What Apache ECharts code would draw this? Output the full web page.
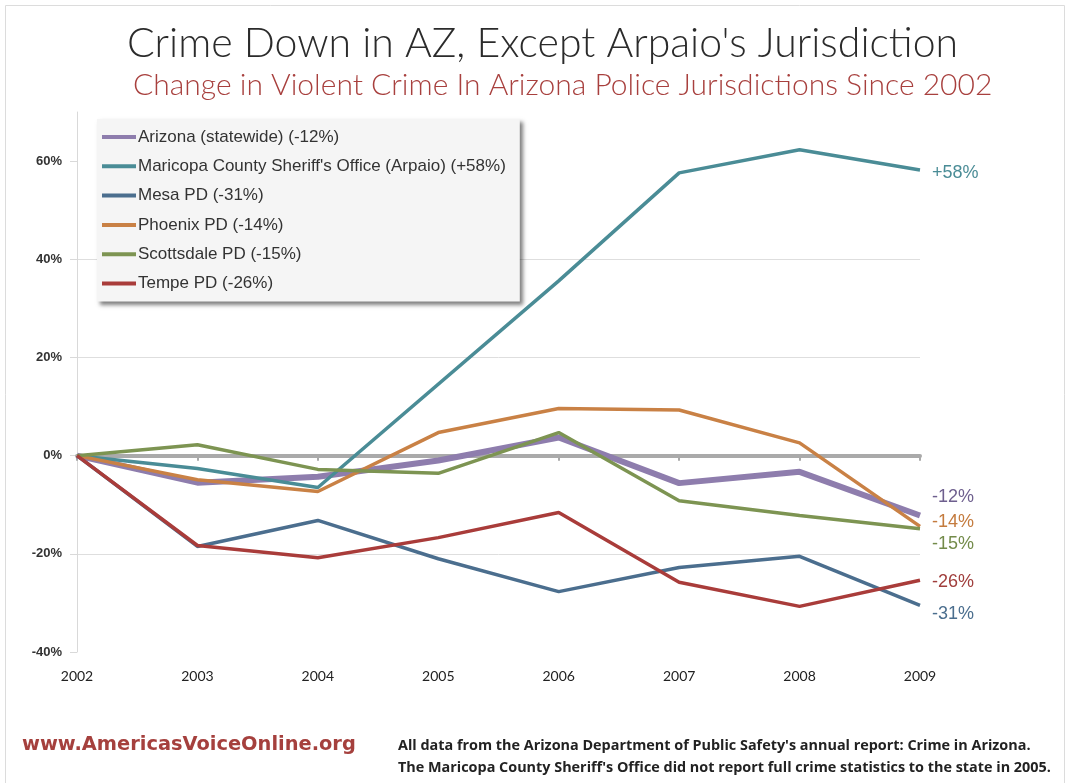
<!DOCTYPE html>
<html><head><meta charset="utf-8">
<script src="https://cdn.jsdelivr.net/npm/echarts@6/dist/echarts.min.js"></script>
<style>html,body{margin:0;padding:0;background:#fff;}#c{width:1070px;height:783px;}</style>
</head><body><div id="c"></div>
<script>
const years = ['2002','2003','2004','2005','2006','2007','2008','2009'];
const yTicks = [-40, -20, 0, 20, 40, 60];
const seriesNames = ['Arizona (statewide) (-12%)', "Maricopa County Sheriff's Office (Arpaio) (+58%)", 'Mesa PD (-31%)', 'Phoenix PD (-14%)', 'Scottsdale PD (-15%)', 'Tempe PD (-26%)'];
const endLabels = ['-12%', '+58%', '-31%', '-14%', '-15%', '-26%'];
const arizona    = [0, -5.5, -4.3, -1.0, 3.7, -5.6, -3.3, -12.2];
const maricopa   = [0, -2.6, -6.5, null, 35.6, 57.6, 62.3, 58.2];
const mesa       = [0, -18.5, -13.2, -21.0, -27.7, -22.8, -20.5, -30.5];
const phoenix    = [0, -4.9, -7.3, 4.7, 9.6, 9.3, 2.6, -14.4];
const scottsdale = [0, 2.2, -2.8, -3.6, 4.7, -9.2, -12.2, -14.9];
const tempe      = [0, -18.3, -20.8, -16.7, -11.6, -25.8, -30.7, -25.4];
const allData = [arizona, maricopa, mesa, phoenix, scottsdale, tempe];

const colors = ['#8E7DAD', '#4A8C96', '#4B6E8E', '#C98145', '#7D9452', '#A93C3A'];
const labelColors = ['#6E5F8E', '#4A8C96', '#4B6E8E', '#C47B3E', '#738B4A', '#A03E3C'];
const widths = [6, 3.5, 3.5, 3.5, 3.5, 3.5];
const labelOffsets = [-18, 3, 9, -4, 15, 2];

const chart = echarts.init(document.getElementById('c'), null, {renderer: 'canvas'});
const series = allData.map((d, i) => ({
  name: seriesNames[i],
  type: 'line',
  data: d,
  connectNulls: true,
  symbol: 'none',
  xAxisIndex: 0,
  lineStyle: {color: colors[i], width: widths[i]},
  itemStyle: {color: colors[i]},
  z: i === 0 ? 2 : 3,
  endLabel: {
    show: true,
    formatter: endLabels[i],
    color: labelColors[i],
    fontSize: 18,
    fontFamily: 'Liberation Sans, Arial, sans-serif',
    distance: 12,
    offset: [0, labelOffsets[i]]
  },
  emphasis: {disabled: true}
}));

chart.setOption({
  animation: false,
  backgroundColor: '#fff',
  title: [
    {text: "Crime Down in AZ, Except Arpaio's Jurisdiction", left: 122, top: 18,
     textStyle: {fontFamily: 'Lato, sans-serif', fontWeight: 300, fontSize: 41, color: '#2b2b2b'}},
    {text: 'Change in Violent Crime In Arizona Police Jurisdictions Since 2002', left: 128, top: 65,
     textStyle: {fontFamily: 'Lato, sans-serif', fontWeight: 300, fontSize: 30, color: '#A8403E'}}
  ],
  legend: {
    orient: 'vertical', left: 97, top: 119,
    data: seriesNames,
    icon: 'rect', itemWidth: 34, itemHeight: 4, itemGap: 9.3,
    padding: [8, 14, 8, 5],
    backgroundColor: '#f5f5f5',
    shadowColor: 'rgba(0,0,0,0.5)', shadowBlur: 4, shadowOffsetX: 3, shadowOffsetY: 3,
    textStyle: {fontFamily: 'Liberation Sans, Arial, sans-serif', fontSize: 17, color: '#333', lineHeight: 20, padding: [0,0,0,-3]},
    selectedMode: false
  },
  grid: {left: 77, right: 150, top: 112, bottom: 131, containLabel: false},
  xAxis: [
    {type: 'category', data: years, boundaryGap: false, position: 'bottom',
     axisLine: {show: false, onZero: false}, axisTick: {show: false},
     axisLabel: {color: '#222', fontFamily: 'Lato, sans-serif', fontSize: 14, margin: 17},
     splitLine: {show: false}},
    {type: 'category', data: years, boundaryGap: false, position: 'bottom',
     axisLine: {show: true, onZero: true, onZeroAxisIndex: 0, lineStyle: {color: '#aaaaaa', width: 4}},
     axisTick: {show: true, length: 5, lineStyle: {color: '#aaaaaa', width: 2}},
     axisLabel: {show: false}, splitLine: {show: false}, z: 1}
  ],
  yAxis: {
    type: 'value', min: -40, max: 70, interval: 20,
    axisLine: {show: true, onZero: false, lineStyle: {color: '#d9d9d9', width: 1}},
    axisTick: {show: true, length: 7, lineStyle: {color: '#d9d9d9'}, customValues: yTicks},
    axisLabel: {color: '#333', fontFamily: 'Liberation Sans, Arial, sans-serif', fontWeight: 'bold', fontSize: 13, margin: 15,
      customValues: yTicks, formatter: v => v + '%'},
    splitLine: {show: true, showMinLine: false, showMaxLine: false, lineStyle: {color: '#dedede', width: 1}}
  },
  series: series,
  graphic: [
    {type: 'rect', shape: {x: 5.5, y: 5.5, width: 1059, height: 800}, style: {fill: 'none', stroke: '#dcdcdc', lineWidth: 1}, silent: true, z: -1},
    {type: 'text', left: 22, top: 735, style: {text: 'www.AmericasVoiceOnline.org', fill: '#A5403D', font: 'bold 19.4px "DejaVu Sans", sans-serif'}},
    {type: 'text', left: 398, top: 735, style: {text: "All data from the Arizona Department of Public Safety's annual report: Crime in Arizona.\nThe Maricopa County Sheriff's Office did not report full crime statistics to the state in 2005.", fill: '#222', font: 'bold 14.4px "Open Sans", sans-serif', lineHeight: 22}}
  ]
});
</script></body></html>
